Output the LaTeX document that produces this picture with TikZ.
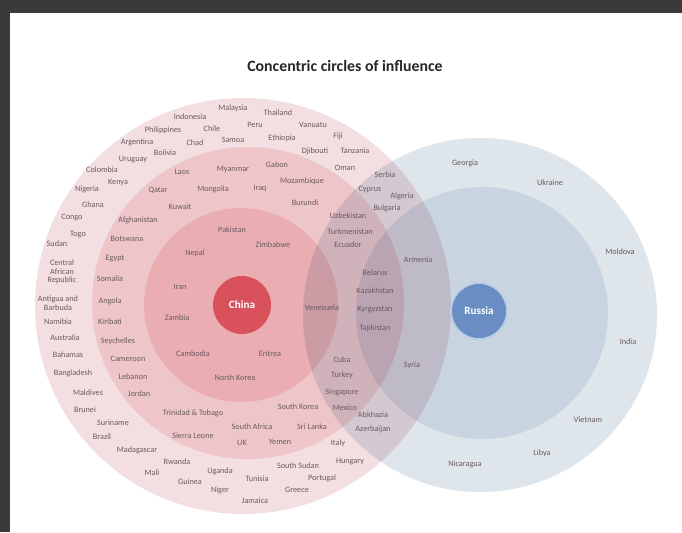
\documentclass[tikz,border=0pt]{standalone}
\usepackage{fontspec}
\setmainfont{Carlito}

\definecolor{framegray}{HTML}{3B3939}
\definecolor{labelgray}{HTML}{6A5A5D}
\definecolor{chinaouter}{HTML}{F3DFE2}
\definecolor{chinamid}{HTML}{EEC6CA}
\definecolor{chinainner}{HTML}{E9ADB2}
\definecolor{chinacore}{HTML}{D9525B}
\definecolor{russiaouter}{HTML}{DFE6EB}
\definecolor{russiainner}{HTML}{E6ECF5}
\definecolor{russiacore}{HTML}{6A8EC3}

\begin{document}
\begin{tikzpicture}[x=0.03cm, y=-0.03cm,
        ring/.style={circle, inner sep=0pt, draw=none},
        core/.style={circle, inner sep=0pt, text=white, font=\bfseries\fontsize{9.5}{11}\selectfont},
        ctry/.style={inner sep=0pt, align=center, text=labelgray, font=\fontsize{7}{7.5}\selectfont}
    ]
        % Frame
        \fill[framegray] (0,0) rectangle (682,532);
        \fill[white] (10,13) rectangle (682,532);
        \useasboundingbox (0,0) rectangle (682,532);

        \node[font=\bfseries\fontsize{13.5}{15}\selectfont, text=black!85] (title) at (345,66) {Concentric circles of influence};

        % China circles
        \node[ring, fill=chinaouter, minimum size=12.48cm] (chinaOuter) at (243,306) {};
        \node[ring, fill=chinamid, minimum size=9.36cm] (chinaMid) at (248,303) {};
        \node[ring, fill=chinainner, minimum size=5.82cm] (chinaInner) at (241,305) {};

        % Russia circles
        \begin{scope}[blend mode=multiply]
            \node[ring, fill=russiaouter, minimum size=10.62cm] (russiaOuter) at (480,315) {};
            \node[ring, fill=russiainner, minimum size=7.56cm] (russiaInner) at (482,313) {};
        \end{scope}

        \node[core, fill=chinacore, minimum size=1.74cm] (china) at (242,305) {China};
        \node[core, fill=russiacore, draw=russiacore!45!white, line width=1.5pt, minimum size=1.68cm] (russia) at (479,311) {Russia};

        % Outer ring
        \foreach \x/\y/\name [count=\i] in {190/117/Indonesia, 233/108/Malaysia, 278/113/Thailand, 255/125/Peru,
            313/125/Vanuatu, 163/130/Philippines, 212/129/Chile, 233/140/Samoa, 282/138/Ethiopia, 338/136/Fiji,
            137/142/Argentina, 195/143/Chad, 315/151/Djibouti, 355/151/Tanzania, 165/153/Bolivia, 133/160/Uruguay,
            102/170/Colombia, 118/183/Kenya, 87/189/Nigeria, 93/205/Ghana, 72/218/Congo, 78/235/Togo, 57/244/Sudan,
            62/272/{Central\\African\\Republic}, 58/303/{Antigua and\\Barbuda}, 58/322/Namibia, 65/338/Australia,
            68/355/Bahamas, 73/373/Bangladesh, 88/393/Maldives, 85/410/Brunei, 113/423/Suriname, 102/437/Brazil,
            137/450/Madagascar, 177/462/Rwanda, 152/473/Mali, 190/482/Guinea, 220/490/Niger, 220/471/Uganda,
            257/479/Tunisia, 255/501/Jamaica, 297/490/Greece, 322/478/Portugal, 298/466/South Sudan, 350/462/Hungary}
            \node[ctry] (outer\i) at (\x,\y) {\name};

        % Middle ring
        \foreach \x/\y/\name [count=\i] in {182/172/Laos, 233/170/Myanmar, 277/165/Gabon, 302/181/Mozambique,
            345/168/Oman, 158/190/Qatar, 213/189/Mongolia, 260/189/Iraq, 305/203/Burundi, 180/207/Kuwait,
            138/220/Afghanistan, 127/239/Botswana, 115/259/Egypt, 110/279/Somalia, 110/301/Angola, 110/322/Kiribati,
            118/341/Seychelles, 128/359/Cameroon, 133/377/Lebanon, 139/394/Jordan, 193/413/Trinidad \& Tobago,
            193/436/Sierra Leone, 252/427/South Africa, 312/427/Sri Lanka, 242/443/UK, 280/442/Yemen,
            298/407/South Korea, 338/443/Italy}
            \node[ctry] (mid\i) at (\x,\y) {\name};

        % Inner ring
        \foreach \x/\y/\name [count=\i] in {232/230/Pakistan, 273/245/Zimbabwe, 195/253/Nepal, 180/287/Iran,
            177/318/Zambia, 193/354/Cambodia, 270/354/Eritrea, 235/378/North Korea, 322/308/Venezuela}
            \node[ctry] (inner\i) at (\x,\y) {\name};

        % Overlap
        \foreach \x/\y/\name [count=\i] in {385/175/Serbia, 370/189/Cyprus, 402/196/Algeria, 387/208/Bulgaria,
            348/216/Uzbekistan, 350/232/Turkmenistan, 348/245/Ecuador, 375/273/Belarus, 375/291/Kazakhstan,
            375/310/Kyrgyzstan, 375/328/Tajikistan, 342/360/Cuba, 342/375/Turkey, 342/392/Singapore,
            345/408/Mexico, 373/415/Abkhazia, 373/429/Azerbaijan}
            \node[ctry] (both\i) at (\x,\y) {\name};

        % Russia
        \foreach \x/\y/\name [count=\i] in {418/260/Armenia, 412/365/Syria, 465/163/Georgia, 550/183/Ukraine,
            620/252/Moldova, 628/342/India, 588/420/Vietnam, 542/453/Libya, 465/464/Nicaragua}
            \node[ctry] (ru\i) at (\x,\y) {\name};
    \end{tikzpicture}
\end{document}
